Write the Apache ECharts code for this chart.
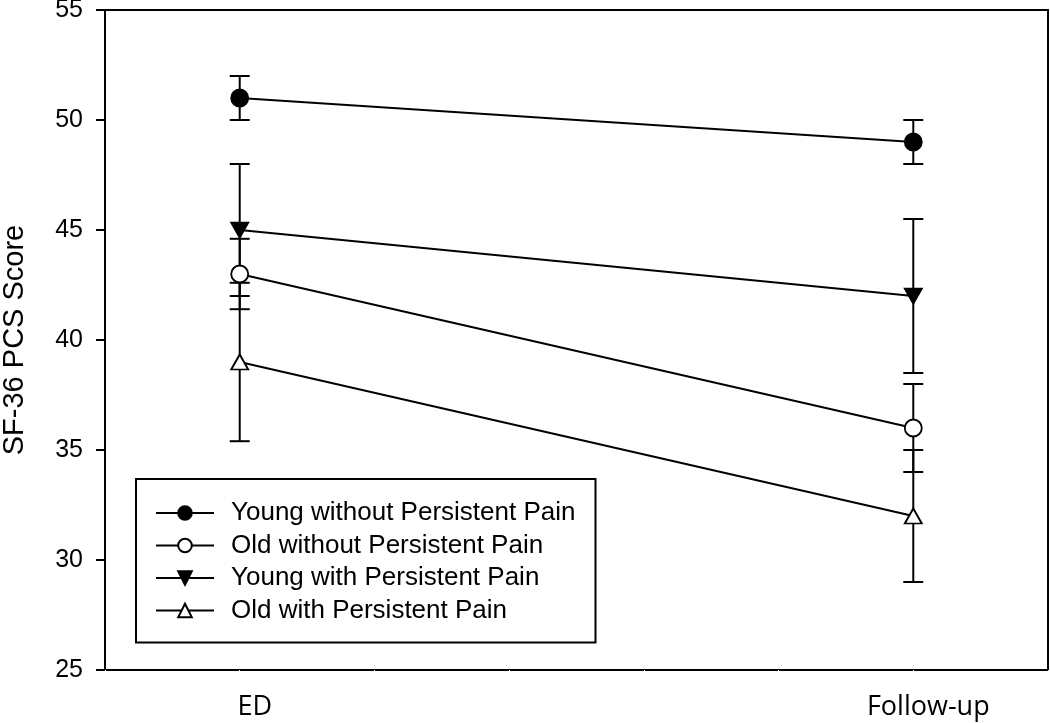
<!DOCTYPE html>
<html>
<head>
<meta charset="utf-8">
<script src="https://cdn.jsdelivr.net/npm/echarts@6/dist/echarts.min.js"></script>
<style>
  html, body { margin: 0; padding: 0; background: #fff; }
  #chart { width: 1050px; height: 723px; }
</style>
</head>
<body>
<div id="chart"></div>
<script>
// time points and where they sit on the 0..7 x scale
var timepoints = ['ED', 'Follow-up']
var timeSlots = [1, 6]

var groupNames = [
  'Young without Persistent Pain',
  'Old without Persistent Pain',
  'Young with Persistent Pain',
  'Old with Persistent Pain'
]
// mean SF-36 PCS score at ED / follow-up
var youngNoPain = [51, 49]
var oldNoPain = [43, 36]
var youngPain = [45, 42]
var oldPain = [39, 32]
// half length of the error bars
var youngNoPainErr = [1, 1]
var oldNoPainErr = [1.6, 2]
var youngPainErr = [3, 3.5]
var oldPainErr = [3.6, 3]

var yTicks = [25, 30, 35, 40, 45, 50, 55]

var means = [youngNoPain, oldNoPain, youngPain, oldPain]
var errs = [youngNoPainErr, oldNoPainErr, youngPainErr, oldPainErr]
var symbols = ['circle', 'circle', 'triangle', 'triangle']
var rotates = [0, 0, 180, 0]
var fills = ['#000', '#fff', '#000', '#fff']
var sizes = [17, 17, [17, 15], [17, 15]]

var chart = echarts.init(document.getElementById('chart'))

var errData = []
means.forEach(function (m, g) {
  m.forEach(function (v, i) {
    errData.push([timeSlots[i], v - errs[g][i], v + errs[g][i]])
  })
})

var series = [{
  type: 'custom',
  name: 'err',
  z: 1,
  silent: true,
  data: errData,
  renderItem: function (params, api) {
    var lo = api.coord([api.value(0), api.value(1)])
    var hi = api.coord([api.value(0), api.value(2)])
    var w = 10
    var st = { stroke: '#000', lineWidth: 2 }
    return {
      type: 'group',
      children: [
        { type: 'line', shape: { x1: lo[0], y1: lo[1], x2: hi[0], y2: hi[1] }, style: st },
        { type: 'line', shape: { x1: lo[0] - w, y1: lo[1], x2: lo[0] + w, y2: lo[1] }, style: st },
        { type: 'line', shape: { x1: hi[0] - w, y1: hi[1], x2: hi[0] + w, y2: hi[1] }, style: st }
      ]
    }
  }
}]

groupNames.forEach(function (name, g) {
  series.push({
    type: 'line',
    name: name,
    z: 3,
    data: means[g].map(function (v, i) { return [timeSlots[i], v] }),
    symbol: symbols[g],
    symbolRotate: rotates[g],
    symbolSize: sizes[g],
    showAllSymbol: true,
    lineStyle: { color: '#000', width: 1.8 },
    itemStyle: { color: fills[g], borderColor: '#000', borderWidth: 1.8 },
    emphasis: { disabled: true },
    animation: false
  })
})

var options = {
  animation: false,
  grid: {
    left: 105,
    right: 2,
    top: 10,
    bottom: 53,
    outerBoundsMode: 'none',
    containLabel: false,
    show: true,
    borderColor: '#000',
    borderWidth: 2
  },
  legend: {
    data: groupNames,
    orient: 'vertical',
    left: 136,
    top: 479,
    padding: [21, 20, 19, 19],
    itemWidth: 58,
    itemHeight: 17,
    itemGap: 6.5,
    borderColor: '#000',
    borderWidth: 2,
    backgroundColor: '#fff',
    selectedMode: false,
    textStyle: {
      fontFamily: 'Liberation Sans',
      fontSize: 26,
      lineHeight: 26,
      color: '#000',
      padding: [0, 0, 0, 12]
    }
  },
  xAxis: {
    type: 'value',
    min: 0,
    max: 7,
    interval: 1,
    splitLine: { show: false },
    axisLine: { lineStyle: { color: '#000', width: 2 } },
    axisTick: { show: true, length: 2, lineStyle: { color: '#fff', width: 1 } },
    axisLabel: {
      margin: 24,
      fontFamily: 'Open Sans',
      fontSize: 27,
      color: '#000',
      padding: [0, 0, 0, 30],
      formatter: function (v) {
        var i = timeSlots.indexOf(v)
        return i >= 0 ? timepoints[i] : ''
      }
    }
  },
  yAxis: {
    type: 'value',
    min: yTicks[0],
    max: yTicks[yTicks.length - 1],
    interval: 5,
    name: 'SF-36 PCS Score',
    nameLocation: 'middle',
    nameGap: 76,
    nameTextStyle: { fontFamily: 'Liberation Sans', fontSize: 29, color: '#000' },
    splitLine: { show: false },
    axisLine: { lineStyle: { color: '#000', width: 2 } },
    axisTick: { show: true, length: 9, lineStyle: { color: '#000', width: 2 } },
    axisLabel: { margin: 22, fontFamily: 'Liberation Sans', fontSize: 25, color: '#000' }
  },
  series: series
}

chart.setOption(options)
</script>
</body>
</html>
